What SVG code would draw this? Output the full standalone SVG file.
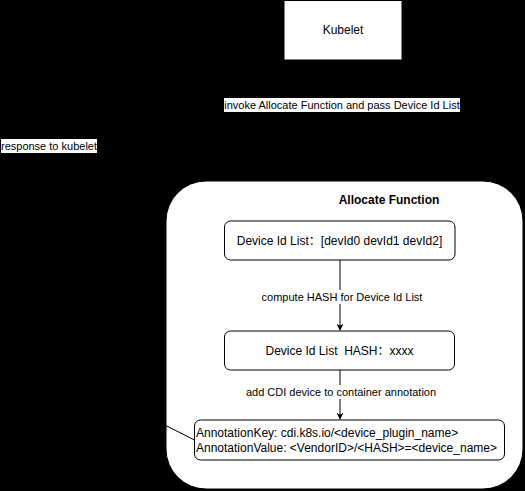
<svg xmlns="http://www.w3.org/2000/svg" width="525" height="491" viewBox="0 0 525 491">
<defs>
<marker id="arr" viewBox="0 0 10 10" refX="9" refY="5" markerWidth="7" markerHeight="7" markerUnits="userSpaceOnUse" orient="auto">
<path d="M0,0 L10,5 L0,10 L3,5 Z" fill="#000"/>
</marker>
<style>
.t{font-family:"Liberation Sans","Noto Sans CJK SC",sans-serif;font-size:12px;fill:#000;white-space:pre}
.lbl{font-family:"Liberation Sans","Noto Sans CJK SC",sans-serif;font-size:11px;fill:#000;text-anchor:middle}
.box{fill:#fff;stroke:#000;stroke-width:1}
.edge{fill:none;stroke:#000;stroke-width:1}
</style>
</defs>
<rect x="0" y="0" width="525" height="491" fill="#000"/>
<g id="kubelet">
<rect x="284" y="0.5" width="118" height="59.5" fill="#fff" stroke="#000"/>
<text class="t" x="343" y="34" text-anchor="middle">Kubelet</text>
</g>
<g id="allocate-function">
<rect class="box" x="166" y="181" width="357" height="308" rx="40" ry="40"/>
<text class="t" x="389" y="204" text-anchor="middle" font-weight="bold">Allocate Function</text>
</g>
<g id="device-id-list">
<rect class="box" x="224.5" y="221" width="230.5" height="39" rx="6" ry="6"/>
<text class="t" x="339.5" y="244.5" text-anchor="middle">Device Id List：[devId0 devId1 devId2]</text>
</g>
<g id="device-id-hash">
<rect class="box" x="224.5" y="331" width="230" height="39" rx="6" ry="6"/>
<text class="t" x="339.5" y="355" text-anchor="middle" xml:space="preserve">Device Id List  HASH：xxxx</text>
</g>
<g id="annotation">
<rect class="box" x="194.5" y="420" width="310" height="40" rx="6" ry="6"/>
<text class="t" x="196" y="436.5">AnnotationKey: cdi.k8s.io/&lt;device_plugin_name&gt;</text>
<text class="t" x="196" y="452">AnnotationValue: &lt;VendorID&gt;/&lt;HASH&gt;=&lt;device_name&gt;</text>
</g>
<g id="connectors">
<path class="edge" d="M343,60 L343,180" marker-end="url(#arr)"/>
<rect x="224" y="98" width="236" height="14" fill="#fff"/>
<text class="lbl" x="342" y="109">invoke Allocate Function and pass Device Id List</text>
<path class="edge" d="M340,260 L340,330" marker-end="url(#arr)"/>
<rect x="262" y="290" width="161" height="14" fill="#fff"/>
<text class="lbl" x="342" y="301">compute HASH for Device Id List</text>
<path class="edge" d="M340,370 L340,419" marker-end="url(#arr)"/>
<rect x="246" y="385" width="191" height="14" fill="#fff"/>
<text class="lbl" x="341" y="395.5">add CDI device to container annotation</text>
<path class="edge" d="M194.5,440 L160,422.6 C60,372 30,200 49,146 C70,80 200,30 283,30" marker-end="url(#arr)"/>
<rect x="1" y="139" width="96" height="14" fill="#fff"/>
<text class="lbl" x="49" y="150">response to kubelet</text>
</g>
</svg>
